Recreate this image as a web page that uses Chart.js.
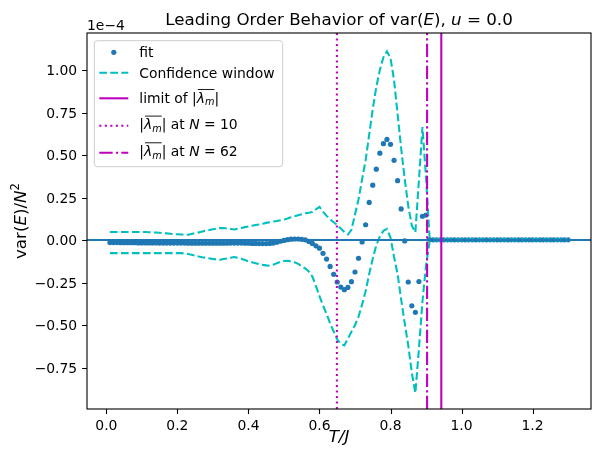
<!DOCTYPE html>
<html>
<head>
<meta charset="utf-8">
<script src="https://cdn.jsdelivr.net/npm/chart.js@4.4.1/dist/chart.umd.min.js"></script>
<style>
  html, body { margin: 0; padding: 0; background: #fff; }
  #wrap { width: 592px; height: 453px; }
</style>
</head>
<body>
<div id="wrap"><canvas id="chart" width="592" height="453"></canvas></div>
<script>
// temperature grid T/J
const tValues = [
  0.01, 0.02, 0.03, 0.04, 0.05, 0.06, 0.07, 0.08, 0.09, 0.10,
  0.11, 0.12, 0.13, 0.14, 0.15, 0.16, 0.17, 0.18, 0.19, 0.20,
  0.21, 0.22, 0.23, 0.24, 0.25, 0.26, 0.27, 0.28, 0.29, 0.30,
  0.31, 0.32, 0.33, 0.34, 0.35, 0.36, 0.37, 0.38, 0.39, 0.40,
  0.41, 0.42, 0.43, 0.44, 0.45, 0.46, 0.47, 0.48, 0.49, 0.50,
  0.51, 0.52, 0.53, 0.54, 0.55, 0.56, 0.57, 0.58, 0.59, 0.60,
  0.61, 0.62, 0.63, 0.64, 0.65, 0.66, 0.67, 0.68, 0.69, 0.70,
  0.71, 0.72, 0.73, 0.74, 0.75, 0.76, 0.77, 0.78, 0.79, 0.80,
  0.81, 0.82, 0.83, 0.84, 0.85, 0.86, 0.87, 0.88, 0.89, 0.90,
  0.91, 0.92, 0.93, 0.94, 0.95, 0.96, 0.97, 0.98, 0.99, 1.00,
  1.01, 1.02, 1.03, 1.04, 1.05, 1.06, 1.07, 1.08, 1.09, 1.10,
  1.11, 1.12, 1.13, 1.14, 1.15, 1.16, 1.17, 1.18, 1.19, 1.20,
  1.21, 1.22, 1.23, 1.24, 1.25, 1.26, 1.27, 1.28, 1.29, 1.30
];

// var(E)/N^2 in units of 1e-4
const fitValues = [
  -0.015, -0.015, -0.015, -0.016, -0.016, -0.016, -0.016, -0.016, -0.017, -0.017,
  -0.017, -0.017, -0.017, -0.017, -0.018, -0.018, -0.018, -0.018, -0.018, -0.018,
  -0.018, -0.018, -0.019, -0.019, -0.019, -0.019, -0.019, -0.019, -0.019, -0.019,
  -0.019, -0.019, -0.019, -0.019, -0.018, -0.018, -0.018, -0.018, -0.019, -0.019,
  -0.020, -0.020, -0.021, -0.021, -0.021, -0.020, -0.018, -0.013, -0.007, -0.002,
  0.002, 0.005, 0.006, 0.006, 0.004, 0.001, -0.008, -0.020, -0.034, -0.048,
  -0.078, -0.112, -0.155, -0.202, -0.247, -0.277, -0.292, -0.279, -0.245, -0.188,
  -0.107, -0.011, 0.090, 0.221, 0.323, 0.417, 0.511, 0.567, 0.592, 0.563,
  0.469, 0.349, 0.183, -0.005, -0.247, -0.387, -0.425, -0.244, 0.140, 0.147,
  0.003, 0.001, 0.001, 0.001, 0.001, 0.001, 0.001, 0.001, 0.001, 0.001,
  0.001, 0.001, 0.001, 0.001, 0.001, 0.001, 0.001, 0.001, 0.001, 0.001,
  0.001, 0.001, 0.001, 0.001, 0.001, 0.001, 0.001, 0.001, 0.001, 0.001,
  0.001, 0.001, 0.001, 0.001, 0.001, 0.001, 0.001, 0.001, 0.001, 0.001
];

// confidence window, upper and lower edge
const upperValues = [
  0.047, 0.047, 0.047, 0.047, 0.047, 0.047, 0.047, 0.047, 0.047, 0.047,
  0.047, 0.046, 0.045, 0.044, 0.043, 0.041, 0.039, 0.037, 0.035, 0.034,
  0.033, 0.032, 0.031, 0.036, 0.041, 0.045, 0.050, 0.055, 0.059, 0.063,
  0.067, 0.070, 0.071, 0.068, 0.065, 0.062, 0.067, 0.071, 0.076, 0.080,
  0.084, 0.088, 0.092, 0.096, 0.101, 0.105, 0.109, 0.112, 0.116, 0.120,
  0.127, 0.134, 0.140, 0.146, 0.152, 0.157, 0.161, 0.165, 0.180, 0.195,
  0.168, 0.142, 0.122, 0.105, 0.088, 0.068, 0.048, 0.032, 0.060, 0.150,
  0.240, 0.357, 0.470, 0.620, 0.770, 0.900, 1.000, 1.075, 1.110, 1.070,
  0.940, 0.740, 0.540, 0.360, 0.200, 0.085, 0.045, 0.350, 0.665, 0.370,
  0.015, 0.004, 0.004, 0.004, 0.004, 0.004, 0.004, 0.004, 0.004, 0.004,
  0.004, 0.004, 0.004, 0.004, 0.004, 0.004, 0.004, 0.004, 0.004, 0.004,
  0.004, 0.004, 0.004, 0.004, 0.004, 0.004, 0.004, 0.004, 0.004, 0.004,
  0.004, 0.004, 0.004, 0.004, 0.004, 0.004, 0.004, 0.004, 0.004, 0.004
];
const lowerValues = [
  -0.077, -0.077, -0.077, -0.077, -0.077, -0.077, -0.077, -0.077, -0.077, -0.077,
  -0.077, -0.077, -0.077, -0.077, -0.077, -0.077, -0.077, -0.077, -0.077, -0.077,
  -0.077, -0.079, -0.082, -0.087, -0.092, -0.097, -0.101, -0.104, -0.108, -0.111,
  -0.114, -0.116, -0.112, -0.108, -0.104, -0.100, -0.105, -0.110, -0.118, -0.126,
  -0.131, -0.136, -0.141, -0.146, -0.149, -0.151, -0.145, -0.136, -0.128, -0.123,
  -0.122, -0.126, -0.131, -0.140, -0.155, -0.167, -0.185, -0.215, -0.270, -0.330,
  -0.385, -0.435, -0.490, -0.538, -0.585, -0.612, -0.620, -0.580, -0.540, -0.500,
  -0.450, -0.380, -0.300, -0.200, -0.110, -0.030, 0.020, 0.055, 0.065, 0.015,
  -0.100, -0.200, -0.350, -0.490, -0.620, -0.780, -0.900, -0.640, -0.360, -0.150,
  -0.010, -0.002, -0.002, -0.002, -0.002, -0.002, -0.002, -0.002, -0.002, -0.002,
  -0.002, -0.002, -0.002, -0.002, -0.002, -0.002, -0.002, -0.002, -0.002, -0.002,
  -0.002, -0.002, -0.002, -0.002, -0.002, -0.002, -0.002, -0.002, -0.002, -0.002,
  -0.002, -0.002, -0.002, -0.002, -0.002, -0.002, -0.002, -0.002, -0.002, -0.002
];

// |lambda_m| markers
const limitLambda = 0.943;
const lambdaN10 = 0.649;
const lambdaN62 = 0.903;

const xTickValues = [0.0, 0.2, 0.4, 0.6, 0.8, 1.0, 1.2];
const xTickLabels = ['0.0', '0.2', '0.4', '0.6', '0.8', '1.0', '1.2'];
const yTickValues = [-0.75, -0.5, -0.25, 0.0, 0.25, 0.5, 0.75, 1.0];
const yTickLabels = ['\u22120.75', '\u22120.50', '\u22120.25', '0.00', '0.25', '0.50', '0.75', '1.00'];
const xLimits = [-0.0545, 1.3645];
const yLimits = [-0.994, 1.218];

const C0 = '#1f77b4';
const CYAN = '#00bfbf';
const MAGENTA = '#bf00bf';
const FONT = '"DejaVu Sans"';
const LW = 2.08;
const DASHED = [7.7, 3.3];
const DOTTED = [2.1, 3.4];
const DASHDOT = [13.3, 3.3, 2.1, 3.3];
const TICK_LEN = 4.9;

Chart.defaults.font.family = FONT;
Chart.defaults.color = '#000';

const points = vals => tValues.map((t, i) => ({ x: t, y: vals[i] }));

// text with italic / sub / sup / overline pieces, like mathtext
function drawRich(ctx, segs, x, y, size, align) {
  const parts = segs.map(s => {
    const fs = (s.sub || s.sup) ? size * 0.7 : size;
    const font = (s.it ? 'italic ' : '') + fs + 'px ' + FONT;
    ctx.font = font;
    return Object.assign({}, s, { font, w: ctx.measureText(s.t).width });
  });
  const total = parts.reduce((a, p) => a + p.w, 0);
  let cx = align === 'center' ? x - total / 2 : align === 'right' ? x - total : x;
  let ovl = null;
  ctx.textAlign = 'left';
  ctx.textBaseline = 'alphabetic';
  parts.forEach(p => {
    ctx.font = p.font;
    const dy = p.sub ? size * 0.2 : p.sup ? -size * 0.4 : 0;
    ctx.fillText(p.t, cx, y + dy);
    if (p.ovl) {
      if (!ovl) ovl = { x0: cx + 1 };
      ovl.x1 = cx + p.w;
    }
    cx += p.w;
  });
  if (ovl) {
    ctx.save();
    ctx.lineWidth = 0.9;
    ctx.strokeStyle = ctx.fillStyle;
    ctx.beginPath();
    ctx.moveTo(ovl.x0, y - size * 0.95);
    ctx.lineTo(ovl.x1, y - size * 0.95);
    ctx.stroke();
    ctx.restore();
  }
}

const lam = [{ t: '|' }, { t: '\u03bb', it: 1, ovl: 1 }, { t: 'm', it: 1, sub: 1, ovl: 1 }, { t: '|' }];

const legendItems = [
  { kind: 'dot', y: 52.3, base: 57.3, text: [{ t: 'fit' }] },
  { kind: 'line', dash: DASHED, color: CYAN, y: 72.7, base: 77.7, text: [{ t: 'Confidence window' }] },
  { kind: 'line', dash: [], color: MAGENTA, y: 98.3, base: 102.7, text: [{ t: 'limit of ' }].concat(lam) },
  { kind: 'line', dash: DOTTED, color: MAGENTA, y: 125.7, base: 129.3,
    text: lam.concat([{ t: ' at ' }, { t: 'N', it: 1 }, { t: ' = 10' }]) },
  { kind: 'line', dash: DASHDOT, color: MAGENTA, y: 152.7, base: 156,
    text: lam.concat([{ t: ' at ' }, { t: 'N', it: 1 }, { t: ' = 62' }]) }
];

const decorations = {
  id: 'decorations',
  afterDatasetsDraw(chart) {
    const { ctx, chartArea: a, scales: { x, y } } = chart;
    ctx.save();
    ctx.beginPath();
    ctx.rect(a.left, a.top, a.right - a.left, a.bottom - a.top);
    ctx.clip();
    ctx.lineWidth = LW;
    // axhline at 0
    ctx.strokeStyle = C0;
    ctx.setLineDash([]);
    ctx.beginPath();
    ctx.moveTo(a.left, y.getPixelForValue(0));
    ctx.lineTo(a.right, y.getPixelForValue(0));
    ctx.stroke();
    // axvlines
    [[limitLambda, []], [lambdaN10, DOTTED], [lambdaN62, DASHDOT]].forEach(([v, dash]) => {
      ctx.strokeStyle = MAGENTA;
      ctx.setLineDash(dash);
      const px = x.getPixelForValue(v);
      ctx.beginPath();
      ctx.moveTo(px, a.bottom);
      ctx.lineTo(px, a.top);
      ctx.stroke();
    });
    ctx.restore();
  },
  afterDraw(chart) {
    const { ctx, chartArea: a, scales: { x, y } } = chart;
    ctx.save();
    // frame
    ctx.strokeStyle = '#000';
    ctx.lineWidth = 1.1;
    ctx.strokeRect(a.left, a.top, a.right - a.left, a.bottom - a.top);

    // ticks and tick labels
    ctx.fillStyle = '#000';
    ctx.beginPath();
    xTickValues.forEach(v => {
      const px = Math.round(x.getPixelForValue(v)) + 0.5;
      ctx.moveTo(px, a.bottom);
      ctx.lineTo(px, a.bottom + TICK_LEN);
    });
    yTickValues.forEach(v => {
      const py = Math.round(y.getPixelForValue(v)) + 0.5;
      ctx.moveTo(a.left, py);
      ctx.lineTo(a.left - TICK_LEN, py);
    });
    ctx.stroke();
    ctx.font = '13.9px ' + FONT;
    ctx.textAlign = 'center';
    ctx.textBaseline = 'alphabetic';
    xTickValues.forEach((v, i) => {
      ctx.fillText(xTickLabels[i], x.getPixelForValue(v), a.bottom + 20.5);
    });
    ctx.textAlign = 'right';
    yTickValues.forEach((v, i) => {
      ctx.fillText(yTickLabels[i], a.left - 9.8, y.getPixelForValue(v) + 5);
    });

    // title
    drawRich(ctx, [{ t: 'Leading Order Behavior of var(' }, { t: 'E', it: 1 }, { t: '), ' },
      { t: 'u', it: 1 }, { t: ' = 0.0' }], (a.left + a.right) / 2, 25, 16.7, 'center');
    // offset text
    drawRich(ctx, [{ t: '1e\u22124' }], a.left, 30, 13.9, 'left');
    // x label
    drawRich(ctx, [{ t: 'T/J', it: 1 }], (a.left + a.right) / 2, 441.5, 16.7, 'center');
    // y label
    ctx.save();
    ctx.translate(25.5, (a.top + a.bottom) / 2);
    ctx.rotate(-Math.PI / 2);
    drawRich(ctx, [{ t: 'var(' }, { t: 'E', it: 1 }, { t: ')/' }, { t: 'N', it: 1 }, { t: '2', sup: 1 }],
      0, 0, 16.7, 'center');
    ctx.restore();

    // legend
    const bx = 94.3, by = 40.7, bw = 188.4, bh = 126, r = 3;
    ctx.beginPath();
    ctx.roundRect(bx, by, bw, bh, r);
    ctx.fillStyle = 'rgba(255,255,255,0.8)';
    ctx.fill();
    ctx.strokeStyle = '#cccccc';
    ctx.lineWidth = 1;
    ctx.stroke();
    legendItems.forEach(it => {
      if (it.kind === 'dot') {
        ctx.fillStyle = C0;
        ctx.beginPath();
        ctx.arc(113.8, it.y, 2.6, 0, Math.PI * 2);
        ctx.fill();
      } else {
        ctx.strokeStyle = it.color;
        ctx.lineWidth = LW;
        ctx.setLineDash(it.dash);
        ctx.beginPath();
        ctx.moveTo(99.3, it.y);
        ctx.lineTo(128.3, it.y);
        ctx.stroke();
        ctx.setLineDash([]);
      }
      ctx.fillStyle = '#000';
      drawRich(ctx, it.text, 139.3, it.base, 13.9, 'left');
    });
    ctx.restore();
  }
};

new Chart(document.getElementById('chart'), {
  type: 'scatter',
  data: {
    datasets: [
      { label: 'upper', data: points(upperValues), showLine: true, borderColor: CYAN,
        borderWidth: LW, borderDash: DASHED, pointRadius: 0, fill: false },
      { label: 'lower', data: points(lowerValues), showLine: true, borderColor: CYAN,
        borderWidth: LW, borderDash: DASHED, pointRadius: 0, fill: false },
      { label: 'fit', data: points(fitValues), showLine: false, pointRadius: 2.6,
        pointBorderWidth: 0, backgroundColor: C0, borderColor: C0 }
    ]
  },
  options: {
    responsive: false,
    animation: false,
    devicePixelRatio: 1,
    layout: { autoPadding: false, padding: { top: 33, right: 1, left: 0, bottom: 0 } },
    plugins: { legend: { display: false }, tooltip: { enabled: false } },
    scales: {
      x: {
        type: 'linear',
        min: xLimits[0],
        max: xLimits[1],
        afterFit: s => { s.height = 44; },
        ticks: { display: false },
        grid: { display: false },
        border: { display: false }
      },
      y: {
        type: 'linear',
        min: yLimits[0],
        max: yLimits[1],
        afterFit: s => { s.width = 87; },
        ticks: { display: false },
        grid: { display: false },
        border: { display: false }
      }
    }
  },
  plugins: [decorations]
});
</script>
</body>
</html>
